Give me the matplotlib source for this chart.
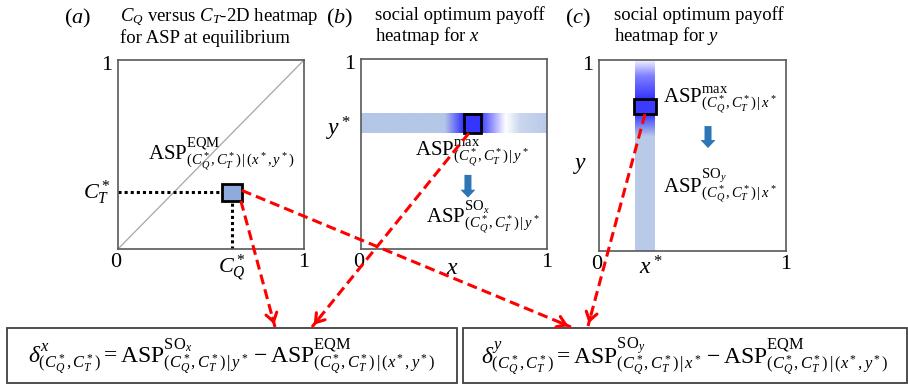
import matplotlib.pyplot as plt
import numpy as np
from matplotlib.colors import LinearSegmentedColormap
from matplotlib.patches import Rectangle

plt.rcParams['font.family'] = 'serif'
plt.rcParams['font.serif'] = ['Liberation Serif', 'DejaVu Serif']
plt.rcParams['mathtext.fontset'] = 'custom'
plt.rcParams['mathtext.rm'] = 'Liberation Serif'
plt.rcParams['mathtext.it'] = 'Liberation Serif:italic'
plt.rcParams['mathtext.bf'] = 'Liberation Serif:bold'

W, H = 908, 386

# panel frames in pixels: left, top, right, bottom
panel_px = {'a': (118, 60, 304, 249), 'b': (361, 59, 547, 249), 'c': (599, 60, 786, 251)}
panel_labels = ['a', 'b', 'c']
panel_titles = [r'$C_Q$ versus $C_T$-2D heatmap' + '\nfor ASP at equilibrium',
                'social optimum payoff\nheatmap for $x$',
                'social optimum payoff\nheatmap for $y$']

# equilibrium point (C_Q*, C_T*) in panel a
eq_point = (0.613, 0.30)
# y* band in panel b and the maximum along it
y_star = 0.66
x_max_b = 0.60
# x* band in panel c and the maximum along it
x_star = 0.246
y_max_c = 0.757

# colour stops along the bands
band_b_stops = [(0.0, '#b4c7e7'), (0.45, '#b4c7e7'), (0.55, '#3535ff'), (0.64, '#3535ff'),
                (0.78, '#ffffff'), (0.86, '#c9d6ee'), (1.0, '#b9cae8')]
band_c_stops = [(0.0, '#b9cae8'), (0.60, '#b9cae8'), (0.72, '#3535ff'), (0.80, '#3535ff'),
                (0.92, '#8080ff'), (1.0, '#eeeeff')]

fig = plt.figure(figsize=(W / 100, H / 100), dpi=100)
ov = fig.add_axes([0, 0, 1, 1], zorder=5)
ov.set_xlim(0, W)
ov.set_ylim(H, 0)
ov.axis('off')
ov.patch.set_alpha(0)


def make_panel(key):
    l, t, r, b = panel_px[key]
    ax = fig.add_axes([l / W, 1 - b / H, (r - l) / W, (b - t) / H])
    ax.set_xlim(0, 1)
    ax.set_ylim(0, 1)
    ax.set_xticks([])
    ax.set_yticks([])
    for s in ax.spines.values():
        s.set_color('#595959')
        s.set_linewidth(1.2)
    ax.text(-0.01, -0.02, '0', transform=ax.transAxes, ha='center', va='top', fontsize=16)
    ax.text(1.0, -0.02, '1', transform=ax.transAxes, ha='center', va='top', fontsize=16)
    ax.text(-0.03, 1.02, '1', transform=ax.transAxes, ha='right', va='top', fontsize=16)
    return ax


def to_px(ax, pt):
    return ov.transData.inverted().transform(ax.transData.transform(pt))


ax_a = make_panel('a')
ax_b = make_panel('b')
ax_c = make_panel('c')

# titles
label_x = [64, 326, 565]
title_x = [120, 375, 614]
for lx, tx, lab, tit in zip(label_x, title_x, panel_labels, panel_titles):
    ov.text(lx, 18, '($' + lab + '$)', fontsize=16, ha='left', va='center')
    ov.text(tx, 6, tit, fontsize=13.5, ha='left', va='top', linespacing=1.1)

# panel a
ax_a.plot([0, 1], [0, 1], color='#a6a6a6', lw=0.9)
cq, ct = eq_point
ax_a.plot([0, cq], [ct, ct], color='black', lw=2.2, ls=(0, (1, 1)))
ax_a.plot([cq, cq], [0, ct], color='black', lw=2.2, ls=(0, (1, 1)))
sq_w, sq_h = 0.105, 0.09
ax_a.add_patch(Rectangle((cq - sq_w / 2, ct - sq_h / 2), sq_w, sq_h, facecolor='#8faadc',
                         edgecolor='black', lw=2, zorder=4))
ax_a.text(-0.04, ct, r'$C^*_T$', ha='right', va='center', fontsize=16)
ax_a.text(cq, -0.02, r'$C^*_Q$', ha='center', va='top', fontsize=16)
ax_a.text(0.16, 0.60, r'$\mathrm{ASP}^{\mathrm{EQM}}_{(C^*_Q,C^*_T)\,|\,(x^*,y^*)}$',
          ha='left', va='top', fontsize=15)

# panel b
cmap_b = LinearSegmentedColormap.from_list('bb', band_b_stops)
ax_b.imshow(np.linspace(0, 1, 400)[None, :], cmap=cmap_b, aspect='auto',
            extent=(0, 1, y_star - 0.05, y_star + 0.05), zorder=1)
bw, bh = 0.09, 0.1
ax_b.add_patch(Rectangle((x_max_b - bw / 2, y_star - bh / 2), bw, bh, facecolor='none',
                         edgecolor='black', lw=2, zorder=4))
ax_b.text(-0.05, y_star - 0.03, r'$y^*$', ha='right', va='center', fontsize=17)
ax_b.text(0.49, -0.05, r'$x$', ha='center', va='top', fontsize=17)
ax_b.text(0.29, 0.59, r'$\mathrm{ASP}^{\mathrm{max}}_{(C^*_Q,C^*_T)\,|\,y^*}$',
          ha='left', va='top', fontsize=15)
ax_b.text(0.35, 0.265, r'$\mathrm{ASP}^{\mathrm{SO}_x}_{(C^*_Q,C^*_T)\,|\,y^*}$',
          ha='left', va='top', fontsize=15)
ax_b.set_xlim(0, 1)
ax_b.set_ylim(0, 1)

# panel c
cmap_c = LinearSegmentedColormap.from_list('cc', band_c_stops)
ax_c.imshow(np.linspace(0, 1, 400)[:, None], cmap=cmap_c, aspect='auto', origin='lower',
            extent=(x_star - 0.053, x_star + 0.053, 0, 1), zorder=1)
cw, ch = 0.118, 0.08
ax_c.add_patch(Rectangle((x_star - cw / 2, y_max_c - ch / 2), cw, ch, facecolor='#3b3bff',
                         edgecolor='black', lw=2, zorder=4))
ax_c.text(-0.06, 0.45, r'$y$', ha='right', va='center', fontsize=17)
ax_c.text(x_star + 0.03, -0.03, r'$x^*$', ha='center', va='top', fontsize=17)
ax_c.text(0.34, 0.875, r'$\mathrm{ASP}^{\mathrm{max}}_{(C^*_Q,C^*_T)\,|\,x^*}$',
          ha='left', va='top', fontsize=15)
ax_c.text(0.34, 0.44, r'$\mathrm{ASP}^{\mathrm{SO}_y}_{(C^*_Q,C^*_T)\,|\,x^*}$',
          ha='left', va='top', fontsize=15)
ax_c.set_xlim(0, 1)
ax_c.set_ylim(0, 1)

# blue down arrows
for ax, x0, y0, y1 in [(ax_b, 0.575, 0.39, 0.27), (ax_c, 0.583, 0.654, 0.539)]:
    p0 = to_px(ax, (x0, y0))
    p1 = to_px(ax, (x0, y1))
    ov.arrow(p0[0], p0[1], 0, p1[1] - p0[1] - 8, width=7, head_width=15, head_length=8,
             length_includes_head=False, color='#2e75b6', lw=0)

# formula boxes
boxes = [(7, 328, 457, 383), (463, 328, 907, 383)]
formulas = [r'$\delta^{x}_{(C^*_Q,C^*_T)} = \mathrm{ASP}^{\mathrm{SO}_x}_{(C^*_Q,C^*_T)\,|\,y^*}'
            r' - \mathrm{ASP}^{\mathrm{EQM}}_{(C^*_Q,C^*_T)\,|\,(x^*,y^*)}$',
            r'$\delta^{y}_{(C^*_Q,C^*_T)} = \mathrm{ASP}^{\mathrm{SO}_y}_{(C^*_Q,C^*_T)\,|\,x^*}'
            r' - \mathrm{ASP}^{\mathrm{EQM}}_{(C^*_Q,C^*_T)\,|\,(x^*,y^*)}$']
for (l, t, r, b), f in zip(boxes, formulas):
    ov.add_patch(Rectangle((l, t), r - l, b - t, facecolor='white', edgecolor='#404040', lw=1.3))
    ov.text((l + r) / 2, (t + b) / 2 + 1, f, ha='center', va='center', fontsize=17)

# red dashed arrows: start in panel data, end on box tops (pixels)
starts = [to_px(ax_a, (cq + sq_w / 2, ct + 0.01)),
          to_px(ax_a, (cq + sq_w / 2 - 0.005, ct - sq_h / 2)),
          to_px(ax_b, (x_max_b - 0.02, y_star - bh / 2)),
          to_px(ax_c, (x_star, y_max_c - ch / 2))]
ends = [(571, 327), (275, 327), (312, 327), (588, 326)]
for (x0, y0), (x1, y1) in zip(starts, ends):
    ov.plot([x0, x1], [y0, y1], color='#ff0000', lw=2.2, ls=(0, (3.3, 1.7)), zorder=6)
    d = np.hypot(x1 - x0, y1 - y0)
    ux, uy = (x1 - x0) / d, (y1 - y0) / d
    ov.annotate('', xy=(x1, y1), xytext=(x1 - 12 * ux, y1 - 12 * uy),
                arrowprops=dict(arrowstyle='->,head_length=0.6,head_width=0.4',
                                color='#ff0000', lw=2.2), zorder=6)

fig.savefig('out.png', dpi=100)
